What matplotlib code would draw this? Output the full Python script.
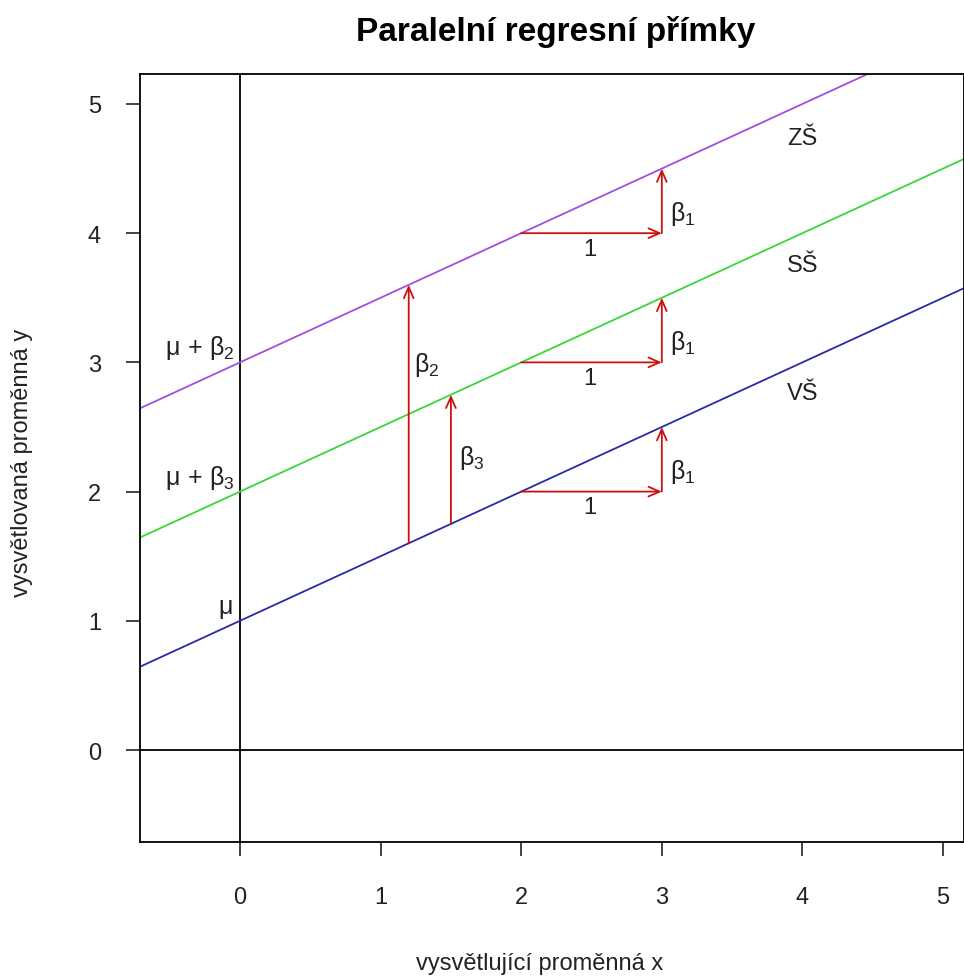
import matplotlib.pyplot as plt

plt.rcParams['font.family'] = ['Liberation Sans', 'DejaVu Sans']
plt.rcParams['mathtext.fontset'] = 'custom'
plt.rcParams['mathtext.rm'] = 'Liberation Sans'
plt.rcParams['mathtext.it'] = 'Liberation Sans'
plt.rcParams['mathtext.bf'] = 'Liberation Sans:bold'

# Přímky: y = mu + beta_j + beta1 * x
slope = 0.5
intercepts = [1, 2, 3]
line_names = ['VŠ', 'SŠ', 'ZŠ']
line_colors = ['#2a2aa6', '#3ad63a', '#a04ee0']
name_x = 4.0
name_y = [2.76, 3.75, 4.74]

# Šipky beta1 a "1"
step_x0 = 2
step_x1 = 3

# Šipky beta2, beta3 (x, y0, y1)
beta2_arrow = (1.2, 1.6, 3.6)
beta3_arrow = (1.5, 1.75, 2.75)

xticks = [0, 1, 2, 3, 4, 5]
yticks = [0, 1, 2, 3, 4, 5]

fig = plt.figure(figsize=(9.64, 9.79), dpi=100)
ax = fig.add_axes([140 / 964, 1 - 843 / 979, 1 - 140 / 964, (843 - 75) / 979])

ax.set_xlim(-0.711, 5.149)
ax.set_ylim(-0.712, 5.232)

ax.axhline(0, color='black', lw=1.3)
ax.axvline(0, color='black', lw=1.3)

for a, c in zip(intercepts, line_colors):
    ax.axline((0, a), slope=slope, color=c, lw=1.3)

fs = 17
tc = '#222222'
for nm, ny in zip(line_names, name_y):
    ax.text(name_x, ny, nm, fontsize=fs, ha='center', va='center', color=tc)

red = '#cc1010'
aprops = dict(arrowstyle='->,head_length=0.8,head_width=0.35', color=red, lw=1.3,
              shrinkA=0, shrinkB=0)

for a in intercepts:
    y0 = a + slope * step_x0
    y1 = a + slope * step_x1
    ax.annotate('', xy=(step_x1, y0), xytext=(step_x0, y0), arrowprops=aprops)
    ax.annotate('', xy=(step_x1, y1), xytext=(step_x1, y0), arrowprops=aprops)
    ax.text(2.49, y0 - 0.12, '1', fontsize=fs, ha='center', va='center', color=tc)
    ax.text(3.06, y0 + 0.16, r'$\beta_1$', fontsize=fs + 1, ha='left', va='center', color=tc)

for (bx, b0, b1), lab, lx, ly in [(beta2_arrow, r'$\beta_2$', 1.24, 2.99),
                                  (beta3_arrow, r'$\beta_3$', 1.56, 2.27)]:
    ax.annotate('', xy=(bx, b1), xytext=(bx, b0), arrowprops=aprops)
    ax.text(lx, ly, lab, fontsize=fs + 1, ha='left', va='center', color=tc)

ax.text(-0.04, 3.12, r'$\mu\,+\,\beta_2$', fontsize=fs + 1, ha='right', va='center', color=tc)
ax.text(-0.04, 2.11, r'$\mu\,+\,\beta_3$', fontsize=fs + 1, ha='right', va='center', color=tc)
ax.text(-0.05, 1.1, r'$\mu$', fontsize=fs + 1, ha='right', va='center', color=tc)

ax.set_xticks(xticks)
ax.set_yticks(yticks)
ax.tick_params(direction='out', length=10, width=1.2, labelsize=fs, colors=tc)
ax.tick_params(axis='x', pad=22)
ax.tick_params(axis='y', pad=18)
for s in ax.spines.values():
    s.set_linewidth(1.3)

fig.text(540 / 964, 1 - 964 / 979, 'vysvětlující proměnná x', fontsize=fs,
         ha='center', va='center', color=tc)
fig.text(22 / 964, 1 - 463 / 979, 'vysvětlovaná proměnná y', fontsize=fs,
         ha='center', va='center', rotation=90, color=tc)
fig.text(556 / 964, 1 - 32 / 979, 'Paralelní regresní přímky', fontsize=24,
         fontweight='bold', ha='center', va='center')

fig.savefig('out.png', dpi=100)
